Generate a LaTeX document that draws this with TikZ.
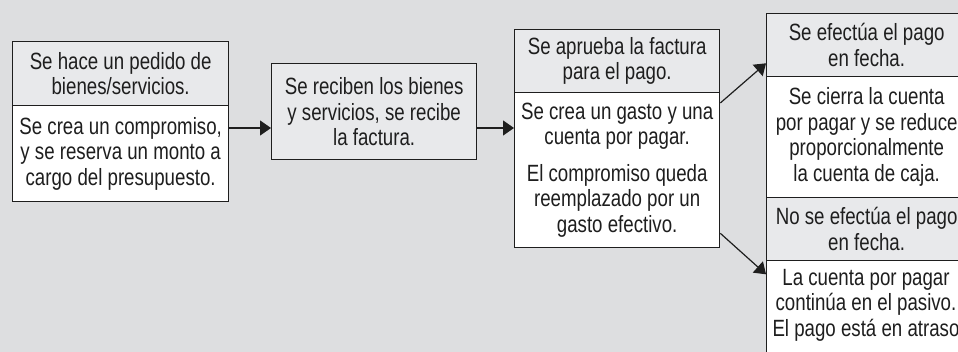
\documentclass[tikz,border=0pt]{standalone}
\usepackage{fontspec}
\setmainfont{Liberation Sans}[FakeStretch=0.795]
\usetikzlibrary{arrows.meta,calc}
\definecolor{bg}{RGB}{221,222,224}
\definecolor{hd}{RGB}{232,233,235}
\definecolor{ink}{RGB}{30,30,30}
\begin{document}
\begin{tikzpicture}[x=1pt,y=-1pt,
  txt/.style={inner sep=0pt, align=center, font=\fontsize{23.5}{25.5}\selectfont, text=ink},
  box/.style={txt, draw=ink, line width=1.3pt, anchor=north west},
  hdr/.style={box, fill=hd},
  bod/.style={box, fill=white},
  arr/.style={draw=ink, line width=1.2pt, -{Triangle[length=11pt,width=15pt]}}]
\useasboundingbox (0,0) rectangle (958,352);
\fill[bg] (0,0) rectangle (958,352);
% box 1
\node[hdr, minimum width=216, minimum height=64] (b1h) at (12,41) {Se hace un pedido de\\bienes/servicios.};
\node[bod, minimum width=216, minimum height=96] (b1b) at (12,105) {Se crea un compromiso,\\y se reserva un monto a\\cargo del presupuesto.};
% box 2
\node[hdr, minimum width=205, minimum height=96] (b2) at (271,63) {Se reciben los bienes\\y servicios, se recibe\\la factura.};
% box 3
\node[hdr, minimum width=205, minimum height=63] (b3h) at (514,29) {Se aprueba la factura\\para el pago.};
\node[bod, minimum width=205, minimum height=155] (b3b) at (514,92) {Se crea un gasto y una\\cuenta por pagar.\\[11pt]El compromiso queda\\reemplazado por un\\gasto efectivo.};
% right column
\node[hdr, minimum width=200, minimum height=63] (r1) at (766,13) {Se efectúa el pago\\en fecha.};
\node[bod, minimum width=200, minimum height=121] (r2) at (766,76) {Se cierra la cuenta\\por pagar y se reduce\\proporcionalmente\\la cuenta de caja.};
\node[hdr, minimum width=200, minimum height=63] (r3) at (766,197) {No se efectúa el pago\\en fecha.};
\node[bod, minimum width=200, minimum height=110] (r4) at (766,260) {};
\node[txt] (r4t) at (866,305) {La cuenta por pagar\\continúa en el pasivo.\\El pago está en atraso};
% connectors
\coordinate (row) at (0,128);
\draw[arr] (b1b.east |- row) -- (b2.west |- row);
\draw[arr] (b2.east |- row) -- (b3b.west |- row);
\draw[arr] ($(b3b.north east)+(0,11)$) -- ($(r1.south west)+(0,-14)$);
\draw[arr] ($(b3b.south east)+(0,-15)$) -- ($(r3.south west)+(0,13)$);
\end{tikzpicture}
\end{document}
